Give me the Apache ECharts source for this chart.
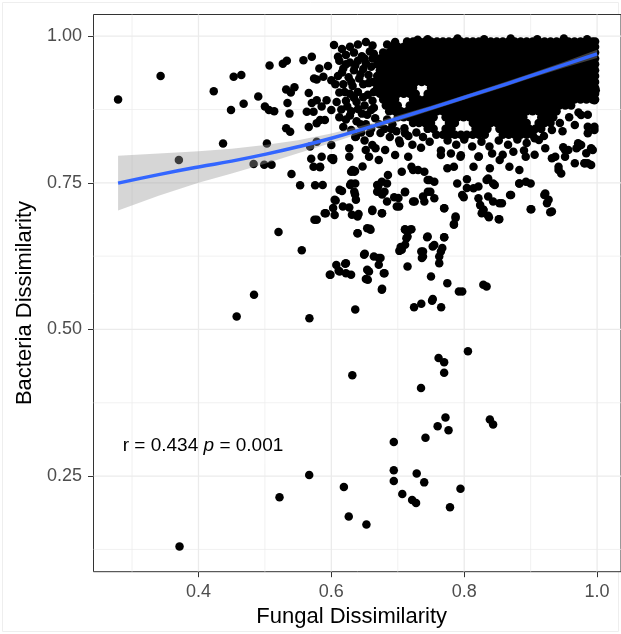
<!DOCTYPE html>
<html>
<head>
<meta charset="utf-8">
<script src="https://cdn.jsdelivr.net/npm/echarts@6/dist/echarts.min.js"></script>
<style>
  html, body { margin: 0; padding: 0; background: #fff; }
  #chart { width: 621px; height: 634px; }
</style>
</head>
<body>
<div id="chart"></div>
<script>
// Axis ticks and labels
const fungalTicks = [0.4, 0.6, 0.8, 1.0];
const fungalMinor = [0.3, 0.5, 0.7, 0.9];
const bacteriaTicks = [0.25, 0.5, 0.75, 1.0];
const bacteriaMinor = [0.125, 0.375, 0.625, 0.875];
const xTitle = 'Fungal Dissimilarity';
const yTitle = 'Bacteria Dissimilarity';
const statR = 'r = 0.434';
const statP = '0.001';

// Isolated pairs (fungal, bacteria)
const sparsePairs = [
  [0.279,0.892],[0.343,0.932],[0.3705,0.789],[0.423,0.906],[0.437,0.817],[0.449,0.874],[0.453,0.931],
  [0.4645,0.934],[0.468,0.885],[0.490,0.897],[0.483,0.782],[0.499,0.781],[0.510,0.781],[0.503,0.817],
  [0.507,0.950],[0.527,0.953],[0.533,0.958],[0.500,0.880],[0.506,0.874],[0.514,0.872],[0.532,0.909],
  [0.539,0.904],[0.5445,0.913],[0.534,0.886],[0.537,0.868],[0.532,0.843],[0.538,0.837],[0.540,0.765],
  [0.553,0.746],[0.558,0.959],[0.5706,0.965],[0.566,0.903],[0.563,0.871],[0.5706,0.886],[0.566,0.845],
  [0.5697,0.791],[0.568,0.812],[0.5746,0.687],[0.5205,0.666],[0.5555,0.635],[0.4836,0.559],[0.4575,0.522],
  [0.567,0.519],[0.574,0.928],[0.3715,0.130],[0.522,0.214],[0.5667,0.252],
  [0.636,0.534],[0.7245,0.538],[0.7354,0.544],[0.7516,0.549],[0.7653,0.538],[0.8056,0.463],[0.7614,0.4515],
  [0.7698,0.444],[0.7698,0.426],[0.6316,0.422],[0.735,0.400],[0.7718,0.350],[0.760,0.335],[0.7764,0.328],
  [0.8386,0.3465],[0.8435,0.338],[0.7417,0.3154],[0.694,0.308],[0.694,0.260],[0.694,0.2415],[0.7285,0.2546],
  [0.7398,0.2393],[0.6189,0.2313],[0.7068,0.2194],[0.7216,0.2092],[0.7275,0.204],[0.7944,0.2286],
  [0.7786,0.1967],[0.6262,0.181],[0.6528,0.1673],
  [0.582,0.945],[0.595,0.949],[0.588,0.931],[0.578,0.926],[0.600,0.925],[0.578,0.891],[0.5854,0.880],
  [0.5928,0.891],[0.600,0.874],[0.5732,0.8712],[0.583,0.857],[0.5903,0.857],[0.578,0.8514],[0.578,0.820],
  [0.600,0.8145],[0.627,0.809],[0.5732,0.7776],[0.6027,0.7918],[0.583,0.7776],[0.632,0.772],[0.647,0.778],
  [0.6518,0.806],[0.6617,0.8145],[0.637,0.8286]
];

// Pairs below and beside the main cloud
const midPairs = [
  [0.922,0.732],[0.927,0.721],[0.932,0.701],[0.901,0.705],[0.883,0.749],[0.893,0.752],[0.8705,0.7294],
  [0.853,0.715],[0.852,0.688],[0.836,0.694],[0.829,0.704],[0.824,0.712],[0.8435,0.749],[0.8337,0.755],
  [0.8214,0.7436],[0.804,0.741],[0.797,0.7294],[0.787,0.6925],[0.7845,0.680],[0.770,0.7068],[0.749,0.735],
  [0.755,0.752],[0.745,0.755],[0.738,0.7265],[0.723,0.718],[0.711,0.735],[0.6985,0.7095],[0.701,0.724],
  [0.680,0.735],[0.676,0.752],[0.669,0.7464],[0.6617,0.704],[0.676,0.698],[0.654,0.6727],[0.659,0.670],
  [0.6395,0.664],[0.711,0.670],[0.718,0.670],[0.713,0.6557],[0.745,0.6585],[0.7526,0.6415],[0.767,0.6387],
  [0.770,0.6574],[0.6493,0.6273],[0.664,0.6245],[0.674,0.6217],[0.6714,0.6103],[0.654,0.6018],[0.679,0.596],
  [0.652,0.586],[0.676,0.5677],[0.5977,0.5933],[0.6124,0.599],[0.622,0.596],[0.6297,0.5933],[0.6075,0.610],
  [0.622,0.613],[0.706,0.6358],[0.711,0.6443],[0.7354,0.633],[0.738,0.6245],[0.7624,0.6245],[0.7624,0.613],
  [0.750,0.5904],[0.7746,0.579],[0.792,0.5648],[0.797,0.5648],[0.8288,0.5762],[0.8337,0.5733],[0.7147,0.6074],
  [0.7527,0.552],[0.578,0.687],[0.590,0.698],[0.605,0.721],[0.6124,0.738],[0.6297,0.749],[0.6345,0.735],
  [0.637,0.721],[0.6345,0.769],[0.6395,0.6925],[0.6838,0.718],[0.6174,0.7095],[0.605,0.695],[0.5756,0.746],
  [0.5854,0.7946],[0.600,0.7918],[0.627,0.7946],[0.6568,0.7946],[0.6665,0.809],[0.6714,0.789],[0.681,0.806],
  [0.696,0.7975],[0.7034,0.8174],[0.711,0.8344],[0.7206,0.7776],[0.7305,0.772],[0.7157,0.7946],[0.7649,0.7975],
  [0.7747,0.7748],[0.7845,0.7776],[0.7944,0.7946],[0.814,0.7776],[0.8214,0.7946],[0.8386,0.7748],[0.8534,0.789],
  [0.868,0.7776],[0.883,0.772],[0.8926,0.7946],[0.9124,0.823],[0.922,0.809],[0.937,0.7946],[0.942,0.7776],
  [0.9518,0.806],[0.9665,0.8485],[0.9714,0.8116],[0.986,0.8344],[0.9935,0.806],[0.981,0.7834],[0.991,0.7805],
  [0.976,0.8656],[0.996,0.8457],[0.996,0.908],
  [0.583,0.7765],[0.587,0.7464],[0.6027,0.789],[0.5917,0.698],[0.6027,0.707],[0.6065,0.7197],[0.616,0.7362],
  [0.627,0.708],[0.631,0.6954],[0.641,0.697],[0.6298,0.769],[0.6357,0.770],[0.636,0.749],[0.6283,0.7464],
  [0.6357,0.730],[0.6395,0.6642],[0.658,0.6716],[0.6617,0.702],[0.6764,0.6983],[0.6705,0.7436],[0.6764,0.730],
  [0.6838,0.749],[0.6852,0.7634],[0.6946,0.7255],[0.702,0.7095],[0.7108,0.734],[0.706,0.769],[0.6503,0.629],
  [0.6715,0.6217],[0.680,0.596],[0.6567,0.599],[0.6549,0.5847],[0.6764,0.5694],[0.6208,0.612],[0.611,0.600],
  [0.5987,0.5933],[0.7108,0.671],[0.7206,0.671],[0.7147,0.6584],[0.7044,0.6404],[0.7024,0.634],[0.7442,0.6574],
  [0.738,0.633],[0.7363,0.6217],[0.7255,0.718],[0.740,0.718],[0.7453,0.735],[0.7476,0.755],[0.740,0.769],
  [0.723,0.772],[0.669,0.735],
  [0.900,0.705],[0.9295,0.700],[0.9246,0.7153],[0.9206,0.7294],[0.900,0.749],[0.8829,0.749],[0.869,0.7294],
  [0.8568,0.7153],[0.8528,0.688],[0.8372,0.6915],[0.8288,0.704],[0.8263,0.698],[0.8214,0.7238],[0.8361,0.7265],
  [0.8435,0.718],[0.814,0.7408],[0.7993,0.7255],[0.7698,0.7068],[0.787,0.690],[0.7845,0.6784],[0.7698,0.6574],
  [0.755,0.644],[0.7649,0.633],[0.8361,0.7575],[0.846,0.7464],[0.8041,0.756],[0.7895,0.749],[0.755,0.7238],
  [0.932,0.792],[0.942,0.772],[0.946,0.766],[0.9567,0.806],[0.969,0.809],[0.9665,0.7834],[0.986,0.7834],
  [0.9837,0.8004],[0.9518,0.7946],[0.9714,0.8174],[0.949,0.8106],[0.976,0.8145],[0.986,0.8457],[0.996,0.840],
  [0.991,0.809],[0.9812,0.7834],[0.996,0.891],[0.998,0.908]
];

// Edge of the dense cloud
const edgePairs = [
  [0.604,0.985],[0.616,0.978],[0.628,0.982],[0.640,0.986],[0.652,0.990],[0.662,0.984],[0.622,0.968],
  [0.634,0.972],[0.646,0.966],[0.658,0.974],[0.612,0.958],[0.628,0.955],[0.640,0.958],[0.652,0.954],
  [0.662,0.962],[0.618,0.945],[0.634,0.942],[0.648,0.944],[0.660,0.948],[0.610,0.932],[0.626,0.930],
  [0.642,0.928],[0.656,0.934],[0.618,0.918],[0.632,0.915],[0.648,0.918],[0.662,0.922],[0.612,0.904],
  [0.628,0.902],[0.640,0.905],[0.655,0.900],[0.622,0.890],[0.638,0.888],[0.650,0.882],[0.662,0.890],
  [0.615,0.875],[0.630,0.872],[0.646,0.868],[0.660,0.874],[0.622,0.858],[0.638,0.855],[0.652,0.850],
  [0.666,0.860],[0.630,0.840],[0.645,0.836],[0.660,0.842],[0.672,0.850],[0.684,0.858],[0.692,0.850],
  [0.680,0.842],[0.698,0.838],[0.710,0.843],[0.688,0.828],[0.702,0.822],[0.716,0.830],[0.728,0.836],
  [0.738,0.828],[0.722,0.815],[0.735,0.810],[0.748,0.820],[0.758,0.832],
  [0.775,0.822],[0.788,0.815],[0.800,0.824],[0.812,0.812],[0.826,0.820],[0.838,0.812],[0.852,0.822],
  [0.866,0.815],[0.880,0.824],[0.894,0.818],[0.906,0.826],[0.920,0.830],[0.932,0.840],[0.944,0.852],
  [0.958,0.862],[0.972,0.870],[0.986,0.866],[0.948,0.838],[0.780,0.800],[0.795,0.797],[0.822,0.795],
  [0.842,0.800],[0.858,0.798],[0.874,0.803],[0.890,0.805],[0.906,0.798],[0.765,0.805],
  [0.730,0.994],[0.745,0.995],[0.790,0.996],[0.830,0.995],[0.870,0.996],[0.910,0.995],[0.950,0.996],
  [0.985,0.995],[0.696,0.990],[0.684,0.986],
  [0.610,0.965],[0.622,0.952],[0.636,0.950],[0.650,0.962],[0.664,0.970],[0.616,0.938],[0.630,0.922],
  [0.644,0.935],[0.656,0.920],[0.606,0.918],[0.620,0.905],[0.634,0.895],[0.648,0.896],[0.664,0.905],
  [0.608,0.888],[0.624,0.880],[0.640,0.876],[0.654,0.866],[0.664,0.878],[0.612,0.862],[0.628,0.865],
  [0.644,0.850],[0.658,0.835],[0.618,0.845],[0.636,0.828],[0.650,0.822],[0.674,0.835],[0.690,0.842]
];

// Dense cloud, one row of fungal values per bacteria level
const coreRowBacteria = [0.991, 0.982, 0.972, 0.962, 0.952, 0.942, 0.932, 0.922, 0.912, 0.902,
                         0.892, 0.882, 0.872, 0.862, 0.852, 0.842, 0.832];
const coreRowFungal = [
  [.714,.723,.732,.741,.750,.759,.768,.777,.786,.795,.804,.813,.822,.831,.840,.849,.858,.867,.876,.885,.894,.903,.912,.921,.930,.939,.948,.957,.966,.975,.984,.993,.997],
  [.691,.700,.709,.718,.727,.736,.745,.754,.763,.772,.781,.790,.799,.808,.817,.826,.835,.844,.853,.862,.871,.880,.889,.898,.907,.916,.925,.934,.943,.952,.961,.970,.979,.988,.997],
  [.678,.687,.696,.705,.714,.723,.732,.741,.750,.759,.768,.777,.786,.795,.804,.813,.822,.831,.840,.849,.858,.867,.876,.885,.894,.903,.912,.921,.930,.939,.948,.957,.966,.975,.984,.993,.997],
  [.673,.682,.691,.700,.709,.718,.727,.736,.745,.754,.763,.772,.781,.790,.799,.808,.817,.826,.835,.844,.853,.862,.871,.880,.889,.898,.907,.916,.925,.934,.943,.952,.961,.970,.979,.988,.997],
  [.669,.678,.687,.696,.705,.714,.723,.732,.741,.750,.759,.768,.777,.786,.795,.804,.813,.822,.831,.840,.849,.858,.867,.876,.885,.894,.903,.912,.921,.930,.939,.948,.957,.966,.975,.984,.993,.997],
  [.673,.682,.691,.700,.709,.718,.727,.736,.745,.754,.763,.772,.781,.790,.799,.808,.817,.826,.835,.844,.853,.862,.871,.880,.889,.898,.907,.916,.925,.934,.943,.952,.961,.970,.979,.988,.997],
  [.669,.678,.687,.696,.705,.714,.723,.732,.741,.750,.759,.768,.777,.786,.795,.804,.813,.822,.831,.840,.849,.858,.867,.876,.885,.894,.903,.912,.921,.930,.939,.948,.957,.966,.975,.984,.993,.997],
  [.673,.682,.691,.700,.709,.718,.727,.736,.745,.754,.763,.772,.781,.790,.799,.808,.817,.826,.835,.844,.853,.862,.871,.880,.889,.898,.907,.916,.925,.934,.943,.952,.961,.970,.979,.988,.997],
  [.669,.678,.687,.696,.705,.714,.723,.750,.759,.768,.777,.786,.795,.804,.813,.822,.831,.840,.849,.858,.867,.876,.885,.894,.903,.912,.921,.930,.939,.948,.957,.966,.975,.984,.993,.997],
  [.673,.682,.691,.700,.709,.718,.727,.745,.754,.763,.772,.781,.790,.799,.808,.817,.826,.835,.844,.853,.862,.871,.880,.889,.898,.907,.916,.925,.934,.943,.952,.961,.970,.979,.988,.997],
  [.678,.687,.696,.723,.732,.741,.750,.759,.768,.777,.786,.795,.804,.813,.822,.831,.840,.849,.858,.867,.876,.885,.894,.903,.912,.921,.930,.939,.948,.957,.966,.975,.984,.993,.997],
  [.682,.691,.700,.718,.727,.736,.745,.754,.763,.772,.781,.790,.799,.808,.817,.826,.835,.844,.853,.862,.871,.880,.889,.898,.907,.916,.925,.934,.943,.952,.961],
  [.687,.696,.705,.714,.723,.732,.741,.750,.759,.768,.777,.786,.795,.804,.813,.822,.831,.840,.849,.858,.867,.876,.885,.894,.903,.912,.921,.930,.939],
  [.700,.709,.718,.727,.736,.745,.754,.772,.781,.790,.799,.808,.817,.826,.835,.844,.853,.862,.871,.880,.889,.916,.925,.934],
  [.723,.732,.741,.750,.777,.786,.813,.822,.831,.840,.849,.858,.867,.876,.885,.894,.912,.921,.930],
  [.745,.754,.772,.781,.817,.826,.835,.853,.862,.871,.880,.889,.898,.907,.916],
  [.768,.777,.786,.795,.804,.813,.822,.831,.858,.867,.876,.885,.894,.903]
];

// Smoothed fit and its confidence band
const fitFungal   = [0.279, 0.34, 0.40, 0.45, 0.50, 0.55, 0.60, 0.65, 0.70, 0.75, 0.80, 0.85, 0.90, 0.95, 1.0];
const fitBacteria = [0.7495,0.764,0.777,0.787,0.7985,0.8115,0.826,0.8425,0.860,0.8775,0.8955,0.9135,0.9325,0.951,0.970];
const bandLower   = [0.703, 0.728,0.750,0.766,0.7825,0.8005,0.818,0.8365,0.855,0.8735,0.8915,0.9095,0.9285,0.946,0.963];
const bandUpper   = [0.796, 0.800,0.804,0.808,0.8145,0.8225,0.834,0.8485,0.865,0.8815,0.8995,0.9175,0.9365,0.956,0.977];

// ---- assemble series data ----
const corePairs = [];
coreRowBacteria.forEach((b, i) => coreRowFungal[i].forEach(f => corePairs.push([f, b])));
const allPoints = sparsePairs.concat(midPairs, edgePairs, corePairs);
const fitLine = fitFungal.map((f, i) => [f, fitBacteria[i]]);

const X_MIN = 0.242, X_MAX = 1.036, Y_MIN = 0.087, Y_MAX = 1.037;
const FONT = '"Liberation Sans", Arial, Helvetica, sans-serif';

const gridItems = [];
fungalTicks.forEach(v => gridItems.push([v, 0, 1]));
fungalMinor.forEach(v => gridItems.push([v, 0, 0]));
bacteriaTicks.forEach(v => gridItems.push([v, 1, 1]));
bacteriaMinor.forEach(v => gridItems.push([v, 1, 0]));

function renderGridLine(params, api) {
  const cs = params.coordSys;
  const item = gridItems[params.dataIndex];
  const v = item[0];
  let shape;
  if (item[1] === 0) {
    const px = api.coord([v, Y_MIN])[0];
    shape = { x1: px, y1: cs.y, x2: px, y2: cs.y + cs.height };
  } else {
    const py = api.coord([X_MIN, v])[1];
    shape = { x1: cs.x, y1: py, x2: cs.x + cs.width, y2: py };
  }
  return { type: 'line', shape, style: { stroke: '#ebebeb', lineWidth: item[2] === 1 ? 1.3 : 0.7 } };
}

function renderBand(params, api) {
  const pts = [];
  fitFungal.forEach((f, i) => pts.push(api.coord([f, bandUpper[i]])));
  for (let i = fitFungal.length - 1; i >= 0; i--) pts.push(api.coord([fitFungal[i], bandLower[i]]));
  return { type: 'polygon', shape: { points: pts }, style: { fill: 'rgba(153,153,153,0.4)' } };
}

const chart = echarts.init(document.getElementById('chart'), null, { renderer: 'canvas' });
chart.setOption({
  animation: false,
  backgroundColor: '#ffffff',
  grid: { left: 93.5, top: 14.5, right: -9, bottom: 62.3, show: true,
          borderColor: '#333333', borderWidth: 1, backgroundColor: '#ffffff' },
  xAxis: {
    type: 'value', min: X_MIN, max: X_MAX,
    axisLine: { show: false },
    splitLine: { show: false },
    axisTick: { show: true, customValues: fungalTicks, length: 5.5, lineStyle: { color: '#333333', width: 1 } },
    axisLabel: { customValues: fungalTicks, formatter: v => v.toFixed(1), color: '#4d4d4d',
                 fontSize: 18, fontFamily: FONT, margin: 11 }
  },
  yAxis: {
    type: 'value', min: Y_MIN, max: Y_MAX,
    axisLine: { show: false },
    splitLine: { show: false },
    axisTick: { show: true, customValues: bacteriaTicks, length: 5.5, lineStyle: { color: '#333333', width: 1 } },
    axisLabel: { customValues: bacteriaTicks, formatter: v => v.toFixed(2), color: '#4d4d4d',
                 fontSize: 18, fontFamily: FONT, margin: 11.5 }
  },
  series: [
    { type: 'custom', coordinateSystem: 'cartesian2d', data: gridItems.map(g => [g[0], Y_MIN]),
      renderItem: renderGridLine, z: 0, silent: true, clip: false },
    { type: 'scatter', data: allPoints, symbol: 'circle', symbolSize: 8.5, large: false,
      itemStyle: { color: '#000000', opacity: 1, borderWidth: 0 }, z: 2, silent: true },
    { type: 'custom', coordinateSystem: 'cartesian2d', data: [[fitFungal[0], bandLower[0]]],
      renderItem: renderBand, z: 3, silent: true },
    { type: 'line', data: fitLine, smooth: true, showSymbol: false, z: 4, silent: true,
      lineStyle: { color: '#3366FF', width: 3.5 } }
  ]
});

const statPos = chart.convertToPixel({ gridIndex: 0 }, [0.286, 0.302]);
chart.setOption({
  graphic: [
    { type: 'rect', shape: { x: 2.5, y: 2.5, width: 616, height: 629 },
      style: { fill: 'none', stroke: '#eeeeee', lineWidth: 1 }, silent: true, z: -1 },
    { type: 'text', x: 351.7, y: 617.4, silent: true,
      style: { text: xTitle, fontSize: 22, fontFamily: FONT, fill: '#000', align: 'center', verticalAlign: 'middle' } },
    { type: 'text', x: 24.9, y: 303, rotation: Math.PI / 2, silent: true,
      style: { text: yTitle, fontSize: 22, fontFamily: FONT, fill: '#000', align: 'center', verticalAlign: 'middle' } },
    { type: 'text', x: statPos[0], y: statPos[1], silent: true, z: 10,
      style: { text: '{a|' + statR + ' }{b|p}{a| = ' + statP + '}', align: 'left', verticalAlign: 'middle',
               rich: { a: { fontSize: 19, fontFamily: FONT, fill: '#000' },
                       b: { fontSize: 19, fontFamily: FONT, fill: '#000', fontStyle: 'italic' } } } }
  ]
});
</script>
</body>
</html>
